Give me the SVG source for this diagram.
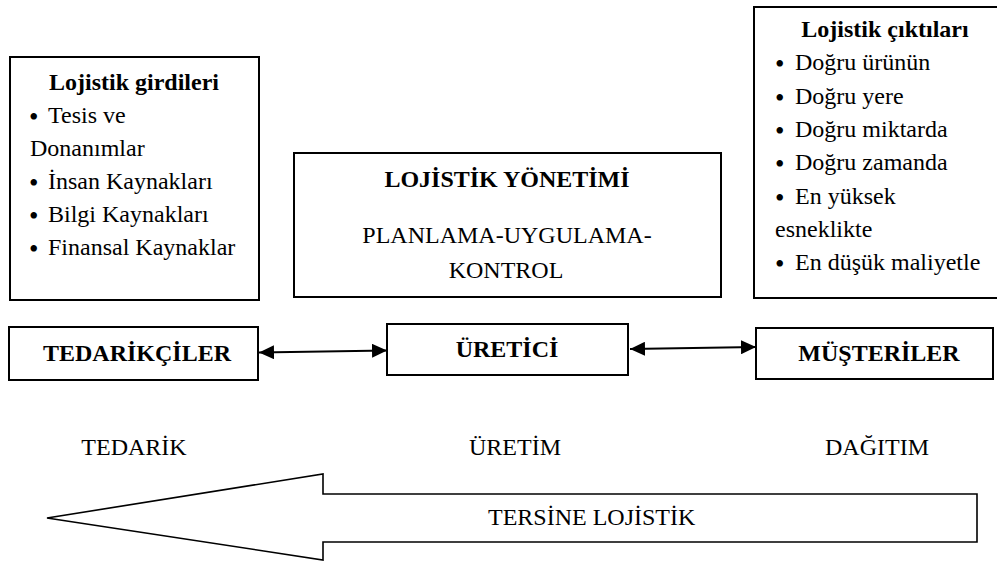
<svg xmlns="http://www.w3.org/2000/svg" width="997" height="562" viewBox="0 0 997 562">
  <defs>
    <style>
      .box { fill: #fff; stroke: #000; stroke-width: 2; }
      .t { font-family: "Liberation Serif", "Times New Roman", serif; font-size: 24px; fill: #000; }
      .b { font-weight: bold; }
      .mid { text-anchor: middle; }
      .dot { font-size: 27px; }
      .link { stroke: #000; stroke-width: 2; fill: none; marker-start: url(#headStart); marker-end: url(#headEnd); }
      .big { fill: #fff; stroke: #000; stroke-width: 1.6; }
    </style>
    <marker id="headEnd" viewBox="0 0 15 14" refX="15" refY="7" markerWidth="15" markerHeight="14" markerUnits="userSpaceOnUse" orient="auto">
      <path d="M0,0 L15,7 L0,14 Z" fill="#000"/>
    </marker>
    <marker id="headStart" viewBox="0 0 15 14" refX="0" refY="7" markerWidth="15" markerHeight="14" markerUnits="userSpaceOnUse" orient="auto">
      <path d="M15,0 L0,7 L15,14 Z" fill="#000"/>
    </marker>
  </defs>

  <rect width="997" height="562" fill="#fff"/>

  <!-- Inputs -->
  <g id="girdiler">
    <rect class="box" x="10" y="57" width="249" height="243"/>
    <text class="t b mid" x="134" y="90">Lojistik girdileri</text>
    <text class="t" y="123"><tspan class="dot" x="29" dy="3">•</tspan><tspan x="48" dy="-3">Tesis ve</tspan></text>
    <text class="t" x="30" y="156">Donanımlar</text>
    <text class="t" y="189"><tspan class="dot" x="29" dy="3">•</tspan><tspan x="48" dy="-3">İnsan Kaynakları</tspan></text>
    <text class="t" y="222"><tspan class="dot" x="29" dy="3">•</tspan><tspan x="48" dy="-3">Bilgi Kaynakları</tspan></text>
    <text class="t" y="255"><tspan class="dot" x="29" dy="3">•</tspan><tspan x="48" dy="-3">Finansal Kaynaklar</tspan></text>
  </g>

  <!-- Management -->
  <g id="yonetim">
    <rect class="box" x="294" y="153" width="427" height="144"/>
    <text class="t b mid" x="507" y="187">LOJİSTİK YÖNETİMİ</text>
    <text class="t mid" x="507" y="243">PLANLAMA-UYGULAMA-</text>
    <text class="t mid" x="506" y="278">KONTROL</text>
  </g>

  <!-- Outputs -->
  <g id="ciktilar">
    <rect class="box" x="754" y="7" width="250" height="291"/>
    <text class="t b mid" x="885" y="37">Lojistik çıktıları</text>
    <text class="t" y="70"><tspan class="dot" x="775" dy="3">•</tspan><tspan x="795" dy="-3">Doğru ürünün</tspan></text>
    <text class="t" y="104"><tspan class="dot" x="775" dy="3">•</tspan><tspan x="795" dy="-3">Doğru yere</tspan></text>
    <text class="t" y="137"><tspan class="dot" x="775" dy="3">•</tspan><tspan x="795" dy="-3">Doğru miktarda</tspan></text>
    <text class="t" y="170"><tspan class="dot" x="775" dy="3">•</tspan><tspan x="795" dy="-3">Doğru zamanda</tspan></text>
    <text class="t" y="204"><tspan class="dot" x="775" dy="3">•</tspan><tspan x="795" dy="-3">En yüksek</tspan></text>
    <text class="t" x="775" y="237">esneklikte</text>
    <text class="t" y="270"><tspan class="dot" x="775" dy="3">•</tspan><tspan x="795" dy="-3">En düşük maliyetle</tspan></text>
  </g>

  <!-- Chain members -->
  <g id="tedarikciler">
    <rect class="box" x="9" y="327" width="249" height="53"/>
    <text class="t b mid" x="137" y="361">TEDARİKÇİLER</text>
  </g>
  <g id="uretici">
    <rect class="box" x="387" y="324" width="241" height="51"/>
    <text class="t b mid" x="507" y="357">ÜRETİCİ</text>
  </g>
  <g id="musteriler">
    <rect class="box" x="756" y="328" width="237" height="51"/>
    <text class="t b mid" x="879" y="361">MÜŞTERİLER</text>
  </g>

  <!-- Two-way links between members -->
  <g id="baglantilar">
    <line class="link" x1="259" y1="352.5" x2="387" y2="350.5"/>
    <line class="link" x1="630" y1="349" x2="756" y2="347"/>
  </g>

  <!-- Stage labels -->
  <g id="asamalar">
    <text class="t mid" x="134" y="455">TEDARİK</text>
    <text class="t mid" x="515" y="455">ÜRETİM</text>
    <text class="t mid" x="877" y="455">DAĞITIM</text>
  </g>

  <!-- Reverse logistics arrow -->
  <g id="tersine">
    <path class="big" d="M47,518 L323,474 L323,494 L977,494 L977,542 L323,542 L323,560 Z"/>
    <text class="t" x="488" y="525">TERSİNE LOJİSTİK</text>
  </g>
</svg>
